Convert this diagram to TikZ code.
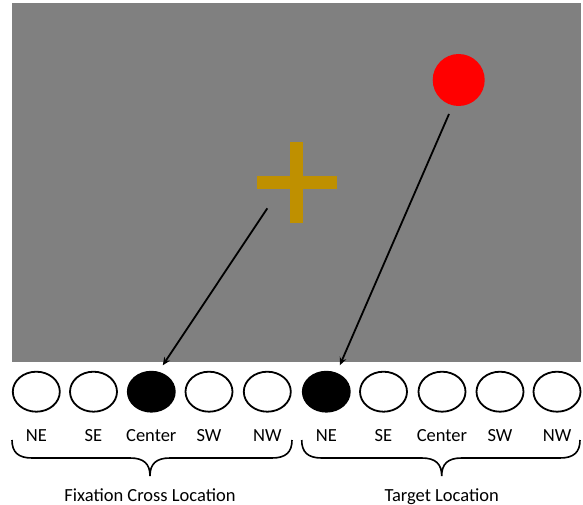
\documentclass[tikz,border=0pt]{standalone}
\usepackage{fontspec}
\setmainfont{Carlito}
\usetikzlibrary{arrows.meta,shapes.geometric}
\definecolor{bggray}{RGB}{128,128,128}
\definecolor{crossgold}{RGB}{191,144,0}
\tikzset{
  loc/.style={draw=black, line width=1.8pt, fill=white, ellipse, minimum width=47pt, minimum height=40pt, inner sep=0pt},
  locon/.style={loc, fill=black},
  lab/.style={font=\fontsize{18.5}{22}\selectfont, inner sep=0pt, anchor=base},
  ptr/.style={line width=1.8pt, -{Stealth[length=8pt,width=7pt]}},
  brc/.style={line width=1.6pt}
}
\begin{document}
\begin{tikzpicture}[x=1pt,y=-1pt]
\useasboundingbox (0,0) rectangle (583,505);
\fill[white] (0,0) rectangle (583,505);
\fill[bggray] (12,3) rectangle (581,362);
% cross
\fill[crossgold] (256.7,175.7) rectangle (336.7,189);
\fill[crossgold] (290,141.7) rectangle (303.3,222.7);
\coordinate (crossfoot) at (267.3,208.3);
% target
\node[circle, fill=red, minimum size=52pt, inner sep=0pt] (target) at (458.7,80) {};
\coordinate (targetfoot) at (449,114);
% ellipses
\node[loc] (f1) at (36.3,391.7) {};
\node[loc] (f2) at (93.5,391.7) {};
\node[locon] (f3) at (151.3,391.7) {};
\node[loc] (f4) at (209,391.7) {};
\node[loc] (f5) at (267.3,391.7) {};
\node[locon] (t1) at (326.3,391.7) {};
\node[loc] (t2) at (383.5,391.7) {};
\node[loc] (t3) at (442,391.7) {};
\node[loc] (t4) at (500,391.7) {};
\node[loc] (t5) at (557,391.7) {};
% labels
\foreach \n/\t in {f1/NE,f2/SE,f3/Center,f4/SW,f5/NW,t1/NE,t2/SE,t3/Center,t4/SW,t5/NW}
  \node[lab] at ([yshift=-50pt]\n.center) {\t};
% arrows
\draw[ptr] (crossfoot) -- ([xshift=11.5pt,yshift=5.5pt]f3.north);
\draw[ptr] (targetfoot) -- ([xshift=13.5pt,yshift=5.5pt]t1.north);
% braces
\draw[brc] (12,440) .. controls (12,452) and (18,458) .. (32,458) -- (130,458)
  .. controls (144,458) and (150,464) .. (150,476)
  .. controls (150,464) and (156,458) .. (170,458) -- (272,458)
  .. controls (286,458) and (292,452) .. (292,440);
\draw[brc] (301.7,440) .. controls (301.7,452) and (307.7,458) .. (321.7,458) -- (421.7,458)
  .. controls (435.7,458) and (441.7,464) .. (441.7,476)
  .. controls (441.7,464) and (447.7,458) .. (461.7,458) -- (560,458)
  .. controls (574,458) and (580,452) .. (580,440);
\node[lab] (flab) at (150,501.5) {Fixation Cross Location};
\node[lab] (tlab) at (441.7,501.5) {Target Location};
\end{tikzpicture}
\end{document}
